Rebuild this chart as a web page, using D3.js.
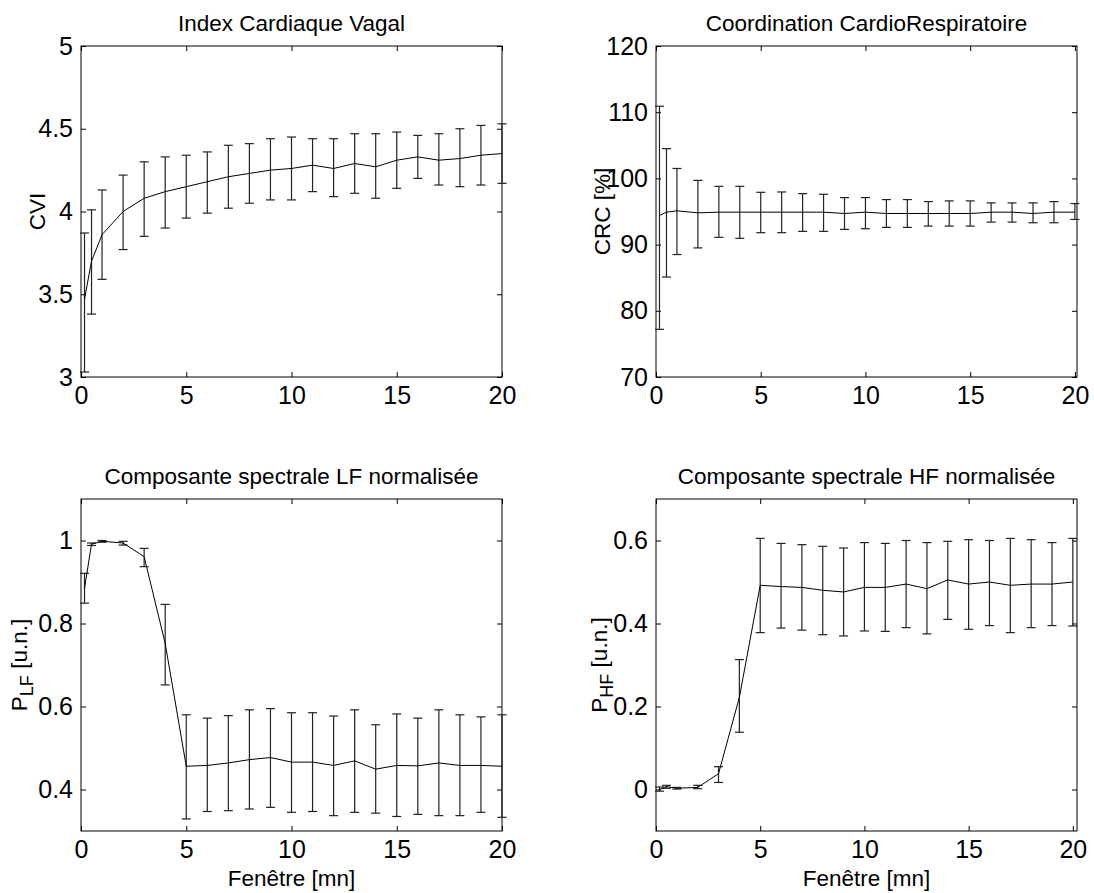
<!DOCTYPE html>
<html><head><meta charset="utf-8">
<script src="https://cdn.jsdelivr.net/npm/d3@7"></script>
<style>
html,body{margin:0;padding:0;background:#fff;}
svg{display:block;font-family:"Liberation Sans",Arial,sans-serif;}
</style></head>
<body>
<svg id="chart" width="1094" height="893"></svg>
<script>
// ---- data ----
const windows = [1/6, 0.5, 1, 2, 3, 4, 5, 6, 7, 8, 9, 10, 11, 12, 13, 14, 15, 16, 17, 18, 19, 20];

const cviMean = [3.47, 3.70, 3.86, 4.00, 4.08, 4.12, 4.15, 4.18, 4.21, 4.23, 4.25, 4.26, 4.28, 4.26, 4.29, 4.27, 4.31, 4.33, 4.31, 4.32, 4.34, 4.35];
const cviUpper = [3.87, 4.01, 4.13, 4.22, 4.30, 4.33, 4.34, 4.36, 4.40, 4.41, 4.44, 4.45, 4.44, 4.44, 4.47, 4.47, 4.48, 4.46, 4.47, 4.50, 4.52, 4.53];
const cviLower = [3.03, 3.38, 3.59, 3.77, 3.85, 3.90, 3.96, 3.99, 4.02, 4.05, 4.07, 4.07, 4.12, 4.09, 4.11, 4.08, 4.14, 4.20, 4.16, 4.15, 4.16, 4.17];

const crcMean = [94.4, 94.9, 95.1, 94.8, 94.9, 94.9, 94.9, 94.9, 94.9, 94.9, 94.7, 94.9, 94.7, 94.7, 94.7, 94.7, 94.7, 94.9, 94.9, 94.7, 94.9, 94.9];
const crcUpper = [110.9, 104.5, 101.5, 99.7, 98.8, 98.8, 97.9, 97.95, 97.7, 97.6, 97.1, 97.1, 96.8, 96.8, 96.5, 96.6, 96.6, 96.3, 96.3, 96.3, 96.5, 96.2];
const crcLower = [77.2, 85.1, 88.5, 89.5, 91.1, 90.95, 91.8, 91.8, 92.0, 92.0, 92.3, 92.4, 92.6, 92.6, 92.8, 92.8, 92.8, 93.4, 93.4, 93.3, 93.3, 93.8];

const lfMean = [0.885, 0.991, 0.998, 0.994, 0.961, 0.752, 0.456, 0.458, 0.464, 0.472, 0.477, 0.466, 0.466, 0.458, 0.469, 0.449, 0.458, 0.457, 0.464, 0.458, 0.458, 0.456];
const lfUpper = [0.921, 0.994, 1.000, 0.998, 0.981, 0.846, 0.580, 0.572, 0.578, 0.592, 0.595, 0.585, 0.585, 0.577, 0.592, 0.556, 0.582, 0.572, 0.592, 0.580, 0.575, 0.580];
const lfLower = [0.849, 0.988, 0.996, 0.989, 0.937, 0.652, 0.329, 0.347, 0.349, 0.353, 0.357, 0.345, 0.347, 0.337, 0.345, 0.343, 0.335, 0.340, 0.337, 0.337, 0.345, 0.333];

const hfMean = [0.000, 0.007, 0.003, 0.005, 0.038, 0.222, 0.492, 0.489, 0.487, 0.480, 0.476, 0.487, 0.487, 0.495, 0.484, 0.505, 0.495, 0.500, 0.492, 0.495, 0.495, 0.500];
const hfUpper = [0.006, 0.010, 0.005, 0.010, 0.055, 0.313, 0.605, 0.593, 0.590, 0.586, 0.582, 0.595, 0.593, 0.600, 0.595, 0.598, 0.602, 0.600, 0.605, 0.602, 0.595, 0.605];
const hfLower = [-0.004, 0.003, 0.001, 0.002, 0.017, 0.138, 0.378, 0.389, 0.384, 0.373, 0.370, 0.382, 0.381, 0.390, 0.375, 0.410, 0.386, 0.395, 0.378, 0.390, 0.395, 0.394];

const xTicks = [0, 5, 10, 15, 20];
const cviTicks = [3, 3.5, 4, 4.5, 5];
const crcTicks = [70, 80, 90, 100, 110, 120];
const lfTicks = [0.4, 0.6, 0.8, 1];
const hfTicks = [0, 0.2, 0.4, 0.6];

const titles = ["Index Cardiaque Vagal", "Coordination CardioRespiratoire",
                "Composante spectrale LF normalisée", "Composante spectrale HF normalisée"];
const xLabel = "Fenêtre [mn]";

// ---- panels ----
const panels = [
  {title: titles[0], mean: cviMean, up: cviUpper, lo: cviLower, yDom: [3, 5], yTicks: cviTicks,
   x0: 81, x1: 502, y0: 46, y1: 377, xMax: 20, ylab: {main: "CVI"}, ylabX: 45, showX: false},
  {title: titles[1], mean: crcMean, up: crcUpper, lo: crcLower, yDom: [70, 120], yTicks: crcTicks,
   x0: 656, x1: 1077, y0: 46, y1: 377, xMax: 20.1, ylab: {main: "CRC [%]"}, ylabX: 610, showX: false},
  {title: titles[2], mean: lfMean, up: lfUpper, lo: lfLower, yDom: [0.3, 1.1], yTicks: lfTicks,
   x0: 81, x1: 502, y0: 499, y1: 831, xMax: 20, ylab: {main: "P", sub: "LF", rest: " [u.n.]"}, ylabX: 27, showX: true},
  {title: titles[3], mean: hfMean, up: hfUpper, lo: hfLower, yDom: [-0.1, 0.7], yTicks: hfTicks,
   x0: 656, x1: 1077, y0: 499, y1: 831, xMax: 20.2, ylab: {main: "P", sub: "HF", rest: " [u.n.]"}, ylabX: 607, showX: true}
];

const svg = d3.select("#chart");
const fmt = d => String(d);
const TXT = "22.5px";

panels.forEach(p => {
  const x = d3.scaleLinear().domain([0, p.xMax]).range([p.x0, p.x1]);
  const y = d3.scaleLinear().domain(p.yDom).range([p.y1, p.y0]);
  const g = svg.append("g");

  // axes (ticks inside, MATLAB style)
  const ax = [
    g.append("g").attr("transform", `translate(0,${p.y1})`)
      .call(d3.axisBottom(x).tickValues(xTicks).tickFormat(fmt).tickSizeInner(-5).tickSizeOuter(0).tickPadding(9)),
    g.append("g").attr("transform", `translate(0,${p.y0})`)
      .call(d3.axisTop(x).tickValues(xTicks).tickFormat("").tickSizeInner(-5).tickSizeOuter(0)),
    g.append("g").attr("transform", `translate(${p.x0},0)`)
      .call(d3.axisLeft(y).tickValues(p.yTicks).tickFormat(fmt).tickSizeInner(-5).tickSizeOuter(0).tickPadding(8)),
    g.append("g").attr("transform", `translate(${p.x1},0)`)
      .call(d3.axisRight(y).tickValues(p.yTicks).tickFormat("").tickSizeInner(-5).tickSizeOuter(0))
  ];
  ax.forEach(a => {
    a.select(".domain").remove();
    a.selectAll(".tick line").attr("stroke", "#000");
    a.selectAll("text").attr("fill", "#000").style("font-size", "25px")
      .style("font-family", '"Liberation Sans", Arial, sans-serif');
  });

  // box
  g.append("rect").attr("x", p.x0).attr("y", p.y0)
    .attr("width", p.x1 - p.x0).attr("height", p.y1 - p.y0)
    .attr("fill", "none").attr("stroke", "#000").attr("stroke-width", 1);

  // error bars
  const idx = d3.range(windows.length);
  const eb = g.append("g").attr("stroke", "#222").attr("stroke-width", 1.2);
  eb.selectAll("line.v").data(idx).join("line").attr("class", "v")
    .attr("x1", i => x(windows[i])).attr("x2", i => x(windows[i]))
    .attr("y1", i => y(p.lo[i])).attr("y2", i => y(p.up[i]));
  ["up", "lo"].forEach(k => {
    eb.selectAll("line.c" + k).data(idx).join("line").attr("class", "c" + k)
      .attr("x1", i => x(windows[i]) - 4.5).attr("x2", i => x(windows[i]) + 4.5)
      .attr("y1", i => y(p[k][i])).attr("y2", i => y(p[k][i]));
  });

  // mean line
  g.append("path").datum(idx)
    .attr("fill", "none").attr("stroke", "#000").attr("stroke-width", 1)
    .attr("d", d3.line().x(i => x(windows[i])).y(i => y(p.mean[i])));

  // title
  g.append("text").attr("x", (p.x0 + p.x1) / 2).attr("y", p.y0 - 15)
    .attr("text-anchor", "middle").style("font-size", TXT).text(p.title);

  // x label
  if (p.showX) {
    g.append("text").attr("x", (p.x0 + p.x1) / 2).attr("y", p.y1 + 55)
      .attr("text-anchor", "middle").style("font-size", TXT).text(xLabel);
  }

  // y label
  const yl = g.append("text")
    .attr("transform", `translate(${p.ylabX},${(p.y0 + p.y1) / 2}) rotate(-90)`)
    .attr("text-anchor", "middle").style("font-size", TXT);
  yl.append("tspan").text(p.ylab.main);
  if (p.ylab.sub) {
    yl.append("tspan").attr("dy", 6).style("font-size", "18px").text(p.ylab.sub);
    yl.append("tspan").attr("dy", -6).text(p.ylab.rest);
  }
});
</script>
</body></html>
